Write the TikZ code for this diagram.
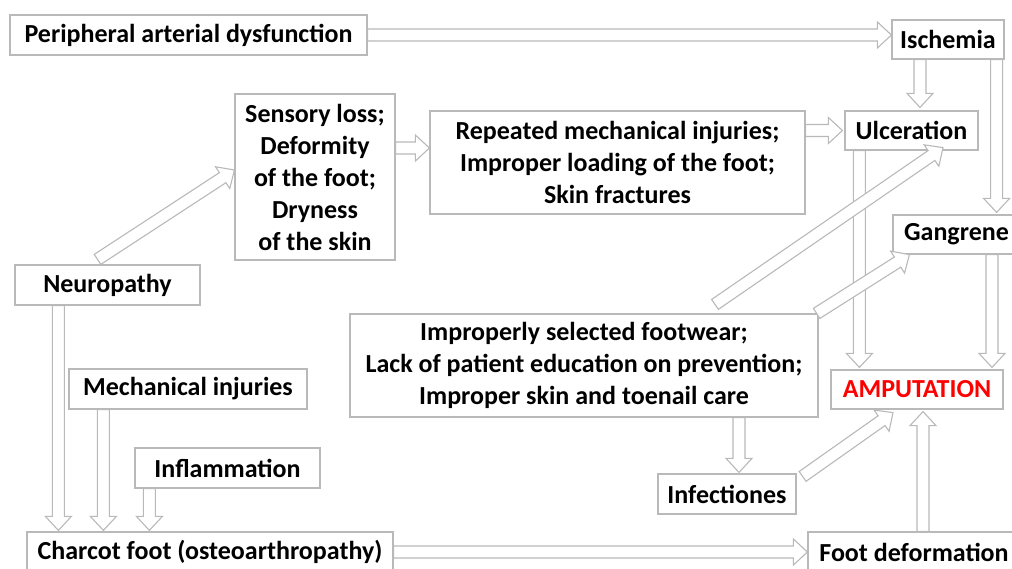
\documentclass[tikz,border=0pt]{standalone}
\usepackage{fontspec}
\setmainfont{Carlito}
\usetikzlibrary{calc}
\definecolor{boxline}{RGB}{185,185,185}
\definecolor{ampred}{RGB}{255,0,0}
\newcommand{\arrShaft}{6pt}
\newcommand{\arrWing}{13pt}
\newcommand{\arrHead}{14pt}
\newcommand{\hollowArrow}[2]{%
  \coordinate (ta) at (#1);
  \coordinate (tb) at (#2);
  \coordinate (th) at ($(tb)!\arrHead!(ta)$);
  \draw[hollow] ($(ta)!\arrShaft!90:(tb)$) -- ($(th)!\arrShaft!-90:(ta)$) -- ($(th)!\arrWing!-90:(ta)$) -- (tb)
    -- ($(th)!\arrWing!90:(ta)$) -- ($(th)!\arrShaft!90:(ta)$) -- ($(ta)!\arrShaft!-90:(tb)$) -- cycle;
}

\begin{document}
\begin{tikzpicture}[x=1pt,y=-1pt,
  box/.style={draw=boxline, line width=1.2pt, fill=white, inner sep=0pt, align=center,
    font={\bfseries\fontsize{26}{32}\selectfont}},
  hollow/.style={draw=boxline, line width=1.1pt, fill=white, line join=miter}]
\useasboundingbox (0,0) rectangle (1012,568);
\node[box, minimum width=357, minimum height=40] (peri) at (188.5,35) {Peripheral arterial dysfunction};
\node[box, minimum width=112, minimum height=39] (isch) at (948,39.5) {Ischemia};
\node[box, minimum width=160, minimum height=166] (sens) at (315,177) {Sensory loss;\\Deformity\\of the foot;\\Dryness\\of the skin};
\node[box, minimum width=375, minimum height=103] (rep) at (617.5,162.5) {Repeated mechanical injuries;\\Improper loading of the foot;\\Skin fractures};
\node[box, minimum width=133, minimum height=39] (ulcer) at (911.5,130.5) {Ulceration};
\node[box, minimum width=127, minimum height=39] (gang) at (956.5,234.5) {Gangrene};
\node[box, minimum width=185, minimum height=40] (neuro) at (107.5,285) {Neuropathy};
\node[box, minimum width=468, minimum height=103] (impr) at (584,365.5) {Improperly selected footwear;\\Lack of patient education on prevention;\\Improper skin and toenail care};
\node[box, minimum width=238, minimum height=40] (mech) at (188,389) {Mechanical injuries};
\node[box, minimum width=172, minimum height=39, text=ampred] (amp) at (917,389.5) {AMPUTATION};
\node[box, minimum width=185, minimum height=40] (infl) at (227.5,468) {Inflammation};
\node[box, minimum width=138, minimum height=40] (infect) at (727,494) {Infectiones};
\node[box, minimum width=366, minimum height=40] (charcot) at (210,552) {Charcot foot (osteoarthropathy)};
\node[box, minimum width=212, minimum height=40] (foot) at (914,552) {Foot deformation};

\coordinate (isch-l) at ($(isch.south)+(-28,0)$);
\coordinate (isch-r) at ($(isch.south east)+(-8,0)$);
\coordinate (sens-r) at ($(sens.east)+(0,-29)$);
\coordinate (neuro-t) at ($(neuro.north)+(-10,-5)$);
\coordinate (neuro-b) at ($(neuro.south west)+(44,0)$);
\coordinate (mech-b) at ($(mech.south west)+(35,0)$);
\coordinate (infl-b) at ($(infl.south west)+(15,0)$);
\coordinate (ulcer-b) at ($(ulcer.south west)+(15,0)$);
\coordinate (gang-b) at ($(gang.south)+(35.5,0)$);
\coordinate (impr-b) at ($(impr.south)+(155,0)$);
\coordinate (foot-t) at ($(foot.north)+(9,0)$);

\hollowArrow{peri.east}{peri.east -| isch.west}
\hollowArrow{isch-l}{$(isch-l |- ulcer.north)+(0,-3)$}
\hollowArrow{isch-r}{$(isch-r |- gang.north)+(0,-2)$}
\hollowArrow{sens-r}{sens-r -| rep.west}
\hollowArrow{ulcer.west -| rep.east}{$(ulcer.west)+(-2,0)$}
\hollowArrow{neuro-b}{$(neuro-b |- charcot.north)+(0,-1)$}
\hollowArrow{mech-b}{$(mech-b |- charcot.north)+(0,-1)$}
\hollowArrow{infl-b}{$(infl-b |- charcot.north)+(0,-1)$}
\hollowArrow{charcot.east}{charcot.east -| foot.west}
\hollowArrow{ulcer-b}{$(ulcer-b |- amp.north)+(0,-2)$}
\hollowArrow{gang-b}{$(gang-b |- amp.north)+(0,-2)$}
\hollowArrow{impr-b}{$(impr-b |- infect.north)+(0,-1)$}
\hollowArrow{foot-t}{$(foot-t |- amp.south)+(0,2)$}
\hollowArrow{neuro-t}{$(sens.west)+(0,-7)$}
\hollowArrow{$(impr.north)+(131,-9)$}{$(ulcer.south)+(31.5,-3)$}
\hollowArrow{$(impr.north east)+(-2,0)$}{$(gang.south west)+(17,0)$}
\hollowArrow{$(infect.north east)+(6,3)$}{$(amp.south)+(-24,3)$}
\end{tikzpicture}
\end{document}
